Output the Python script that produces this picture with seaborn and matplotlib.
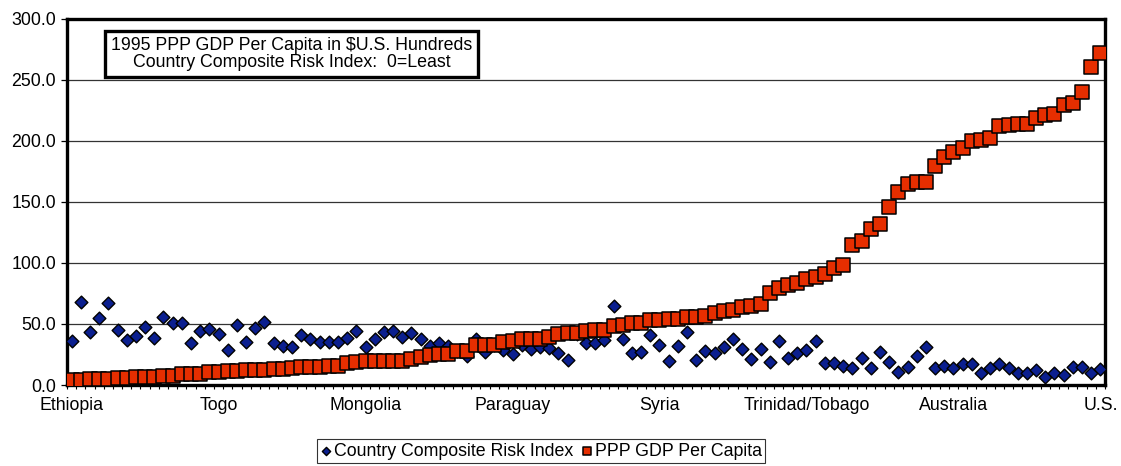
import numpy as np
import pandas as pd
import matplotlib.pyplot as plt
import matplotlib.ticker as mticker
import seaborn as sns

# 1995 PPP GDP per capita in $U.S. hundreds, countries sorted poorest -> richest
gdp_per_capita = [4.1, 4.1, 4.9, 4.9, 4.9, 5.5, 5.5, 6.8, 6.8, 6.8,
                  7.4, 7.4, 8.7, 8.7, 8.7, 10.9, 11.0, 11.5, 11.5, 12.0,
                  12.0, 12.2, 13.5, 13.5, 13.7, 14.5, 14.5, 14.6, 15.5, 15.6,
                  17.6, 19.2, 19.3, 19.4, 19.6, 19.7, 19.8, 21.5, 23.0, 24.8,
                  25.0, 25.1, 28.0, 28.0, 32.8, 32.8, 32.9, 35.2, 36.2, 37.4,
                  37.4, 37.5, 39.5, 41.5, 42.2, 42.5, 44.3, 45.0, 45.2, 48.4,
                  49.2, 50.5, 50.6, 53.3, 53.4, 54.1, 54.2, 55.5, 55.6, 56.8,
                  59.3, 60.4, 61.5, 64.2, 64.3, 66.4, 75.7, 79.2, 82.0, 83.6,
                  86.6, 88.3, 90.6, 95.6, 98.4, 114.8, 117.5, 127.6, 131.7, 145.6,
                  157.9, 164.8, 165.8, 165.8, 178.9, 186.6, 190.4, 193.7, 200.0, 200.8,
                  202.2, 211.7, 212.5, 213.7, 213.9, 218.3, 221.0, 222.1, 229.5, 230.9,
                  239.9, 260.1, 271.9]

# Country composite risk index (0 = least), same country order
risk_index = [36.1, 67.8, 43.7, 54.6, 67.5, 45.1, 36.9, 40.4, 47.3, 38.8,
              56.0, 50.5, 50.5, 34.7, 44.0, 46.0, 41.5, 29.0, 49.2, 35.5,
              46.7, 51.2, 34.5, 32.1, 30.8, 41.3, 37.4, 34.8, 35.5, 35.0,
              38.3, 44.3, 31.4, 37.5, 43.5, 44.3, 39.0, 42.9, 37.4, 31.7,
              34.5, 31.7, 28.0, 23.8, 37.8, 27.3, 33.0, 28.4, 25.2, 32.4,
              29.2, 31.4, 30.4, 26.5, 20.5, 42.0, 34.2, 34.7, 36.8, 64.9,
              37.4, 26.6, 27.0, 40.7, 32.8, 19.4, 32.2, 43.0, 20.5, 27.6,
              26.5, 31.4, 37.8, 29.6, 21.6, 29.3, 18.6, 36.2, 21.9, 26.0,
              28.4, 36.2, 18.0, 17.8, 15.9, 14.2, 21.9, 13.7, 26.8, 19.1,
              10.7, 14.4, 23.5, 31.4, 14.3, 15.7, 13.7, 17.1, 17.5, 9.8,
              14.2, 17.5, 14.2, 9.8, 9.8, 12.0, 6.3, 10.1, 8.2, 14.5,
              14.5, 9.8, 13.1]

# only every 16th country gets a name on the axis
axis_countries = ['Ethiopia', 'Togo', 'Mongolia', 'Paraguay', 'Syria',
                  'Trinidad/Tobago', 'Australia', 'U.S.']
label_every = 16

df = pd.DataFrame({'rank': np.arange(len(gdp_per_capita)),
                   'gdp': gdp_per_capita,
                   'risk': risk_index})

sns.set_style('white')
plt.rcParams['font.family'] = ['Liberation Sans', 'DejaVu Sans']
plt.rcParams['text.color'] = 'black'
fs = 12.8

fig = plt.figure(figsize=(11.21, 4.66), dpi=100)
ax = fig.add_axes([67 / 1121, 1 - 385 / 466, 1038 / 1121, 366.5 / 466])

sns.scatterplot(data=df, x='rank', y='risk', marker='D', s=42, color='#0b1f8f',
                edgecolor='black', linewidth=1.0, label='Country Composite Risk Index',
                legend=False, ax=ax, zorder=3)
sns.scatterplot(data=df, x='rank', y='gdp', marker='s', s=92, color='#e62e00',
                edgecolor='black', linewidth=1.1, label='PPP GDP Per Capita',
                legend=False, ax=ax, zorder=4)

n = len(df)
ax.set_xlim(-0.5, n - 0.5)
ax.set_ylim(0, 300)
ax.set_xlabel('')
ax.set_ylabel('')

ax.yaxis.set_major_locator(mticker.MultipleLocator(50))
ax.yaxis.set_major_formatter(mticker.FormatStrFormatter('%.1f'))
ax.yaxis.grid(True, color='#333333', linewidth=0.9)
ax.set_axisbelow(True)

ax.set_xticks(np.arange(0, n, label_every))
ax.set_xticklabels(axis_countries)
ax.xaxis.set_minor_locator(mticker.FixedLocator(np.arange(-0.5, n, 1)))
ax.tick_params(axis='x', which='major', length=0, pad=9, labelsize=fs, colors='black')
ax.tick_params(axis='x', which='minor', length=3, width=0.8, direction='out',
               bottom=True, color='black')
ax.tick_params(axis='y', which='major', length=4, width=0.9, direction='out',
               left=True, pad=4, labelsize=fs, colors='black')

for side in ['left', 'right', 'top', 'bottom']:
    ax.spines[side].set_visible(True)
    ax.spines[side].set_color('black')
    ax.spines[side].set_linewidth(2.4)

ax.text(0.2163, 0.903, '1995 PPP GDP Per Capita in $U.S. Hundreds\nCountry Composite Risk Index:  0=Least',
        transform=ax.transAxes, ha='center', va='center', fontsize=fs, linespacing=1.0,
        color='black',
        bbox=dict(boxstyle='square,pad=0.35', facecolor='white', edgecolor='black', linewidth=2.4),
        zorder=6)

handles, labels = ax.get_legend_handles_labels()
leg = fig.legend(handles, labels, loc='center', bbox_to_anchor=(0.4826, 0.032), ncol=2,
                 frameon=True, fancybox=False, edgecolor='black', fontsize=fs,
                 handlelength=0.7, handletextpad=0.1, columnspacing=0.4,
                 borderpad=0.2, markerscale=0.65)
leg.get_frame().set_linewidth(0.8)
for t in leg.get_texts():
    t.set_color('black')

fig.savefig('out.png', dpi=100)
